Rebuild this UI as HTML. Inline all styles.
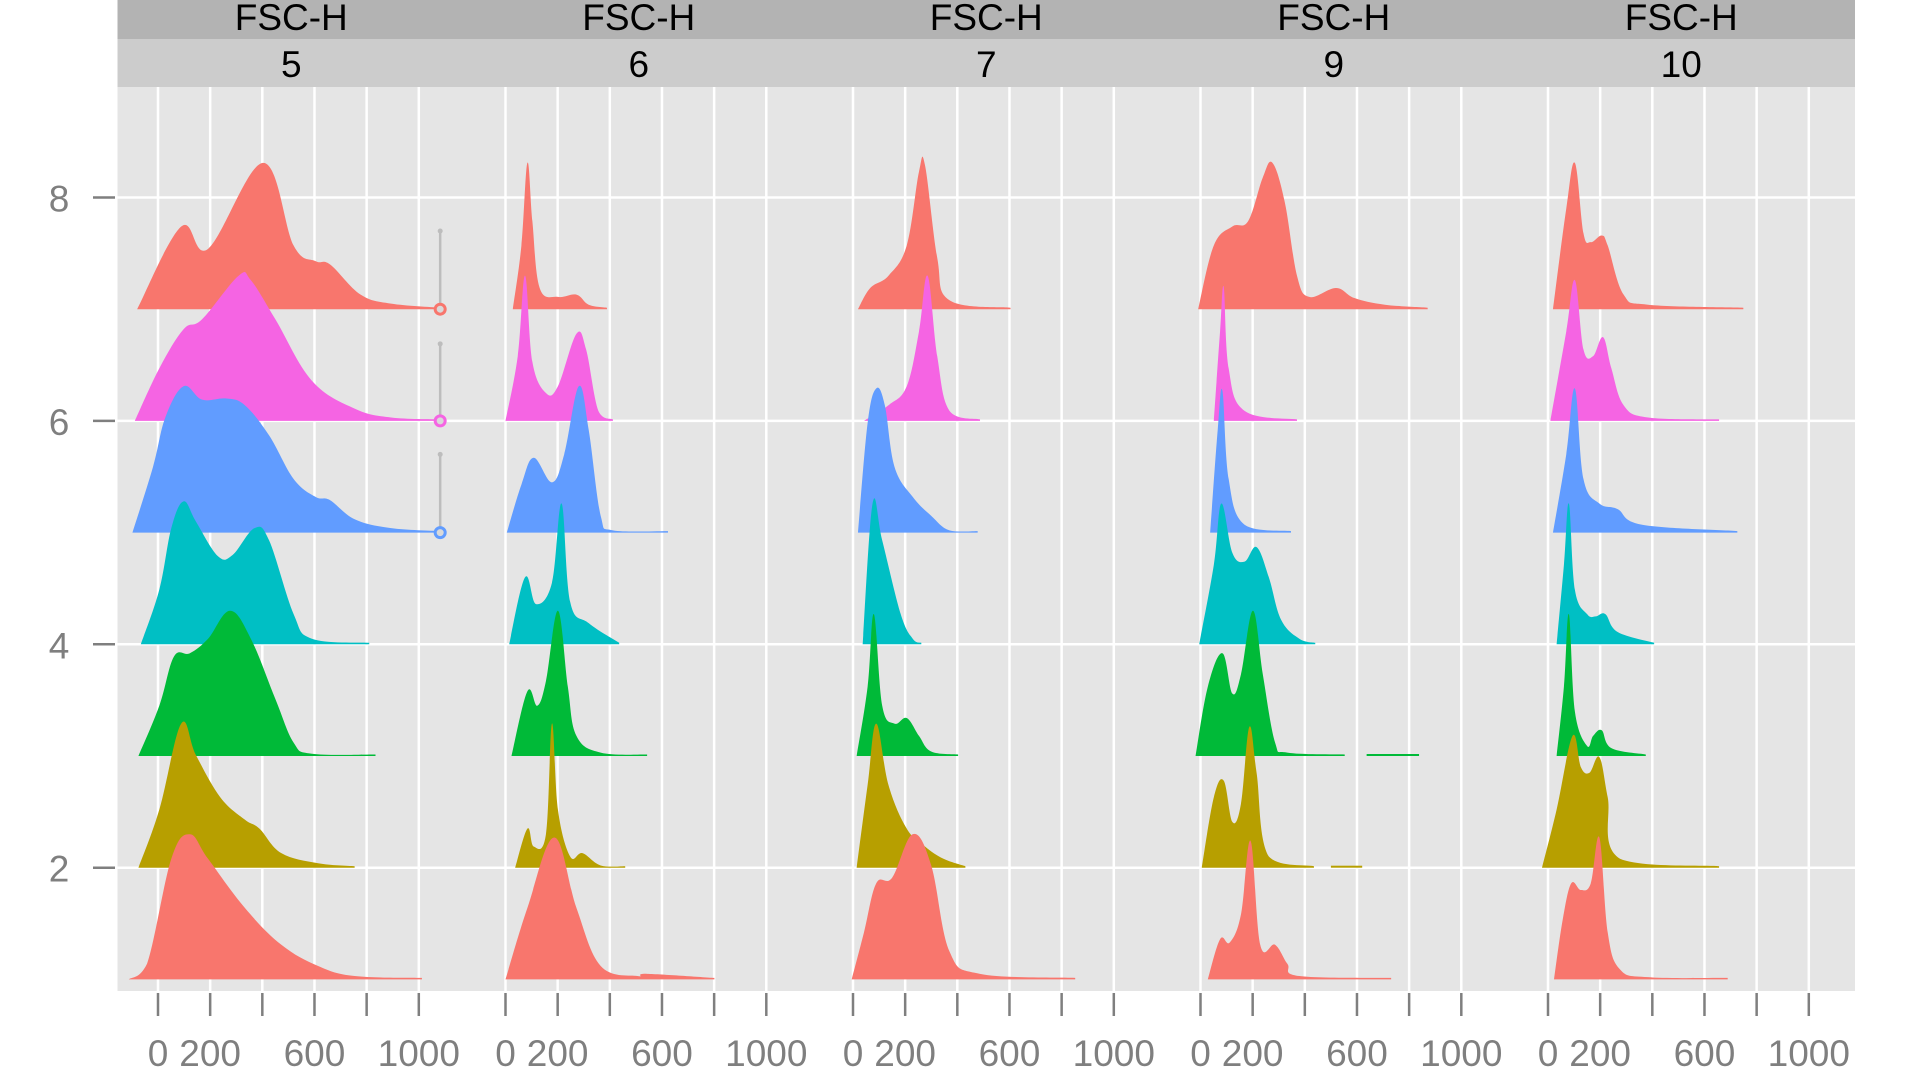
<!DOCTYPE html>
<html><head><meta charset="utf-8">
<style>
html,body{margin:0;padding:0;background:#fff;}
svg{display:block;font-family:"Liberation Sans",sans-serif;}
</style></head>
<body>
<svg id="chart" width="1920" height="1080" viewBox="0 0 1920 1080"></svg>
<script>
const panelLabels = ["5","6","7","9","10"];
const stripTitle = "FSC-H";
const xTicks = [0,200,400,600,800,1000];
const xTickLabels = ["0","200","","600","","1000"];
const yTicks = [2,4,6,8];
const rowColors = ["#F8766D","#B79F00","#00BA38","#00BFC4","#619CFF","#F564E3","#F8766D"];
// densities: [x, h, x, h, ...] per panel, rows 1..7
const panel5 = [
 [-112,0,-42,.14,51,1.08,122,1.3,192,1.08,333,.64,473,.31,614,.12,754,.03,1012,0],
 [-75,0,5,.52,89,1.29,145,1.01,239,.63,333,.43,389,.35,473,.13,614,.04,754,0],
 [-75,0,5,.45,61,.89,122,.92,192,1.05,276,1.3,356,1.05,450,.51,520,.12,590,.02,834,0],
 [-66,0,5,.49,51,1.04,98,1.28,145,1.1,229,.79,286,.8,370,1.04,426,.93,520,.27,590,.05,810,0],
 [-98,0,-19,.59,28,1.03,98,1.31,169,1.19,262,1.2,333,1.14,426,.87,520,.48,604,.32,660,.29,754,.12,894,.04,1082,0],
 [-89,0,5,.47,98,.82,169,.91,309,1.3,356,1.26,450,.91,590,.36,754,.11,894,.03,1082,0],
 [-80,0,89,.74,192,.54,403,1.31,520,.57,604,.43,660,.4,777,.13,894,.05,1082,0]
];
const panel6 = [
 [0,0,84,.64,187,1.27,272,.64,365,.12,506,.03,543,.05,801,0],
 [37,0,84,.35,108,.19,155,.3,178,1.29,201,.52,248,.1,295,.13,365,.02,459,0],
 [23,0,84,.58,122,.45,155,.67,201,1.3,239,.62,272,.18,365,.03,543,0],
 [14,0,75,.6,117,.36,178,.55,215,1.26,248,.38,319,.19,436,0],
 [5,0,61,.43,108,.67,178,.45,225,.7,281,1.31,319,.92,365,.15,412,.02,623,0],
 [0,0,47,.58,75,1.3,103,.53,155,.25,201,.31,272,.78,309,.64,356,.09,412,0],
 [28,0,61,.57,84,1.31,103,.79,131,.19,201,.11,272,.13,319,.04,389,0]
];
const panel7 = [
 [-5,0,42,.42,89,.86,150,.91,229,1.3,300,1.02,370,.25,487,.05,852,0],
 [14,0,56,.74,89,1.29,136,.74,206,.35,276,.19,347,.08,431,0],
 [14,0,56,.62,80,1.27,112,.45,159,.29,206,.34,253,.18,300,.04,403,0],
 [37,0,75,1.26,112,.93,183,.27,229,.05,262,0],
 [19,0,56,.98,89,1.29,122,1.14,159,.59,229,.32,300,.15,370,.02,478,0],
 [42,0,136,.14,206,.31,253,.8,286,1.3,323,.58,370,.09,487,0],
 [19,0,66,.19,136,.3,206,.57,253,1.23,276,1.29,323,.46,370,.08,604,0]
];
const panel9 = [
 [28,0,75,.36,112,.33,155,.58,192,1.24,229,.31,286,.31,333,.14,379,.03,731,0],
 [5,0,51,.63,89,.78,122,.41,155,.57,187,1.26,215,.85,262,.1,435,0],
 [-19,0,28,.62,84,.92,122,.56,155,.73,201,1.3,239,.73,286,.12,333,.03,553,0],
 [-5,0,51,.71,80,1.26,122,.82,169,.74,215,.87,262,.6,309,.22,379,.05,440,0],
 [37,0,66,.92,84,1.27,108,.48,169,.07,347,0],
 [51,0,75,.8,89,1.2,108,.47,169,.09,370,0],
 [-9,0,51,.57,122,.74,183,.79,239,1.18,276,1.31,323,.96,370,.3,417,.11,520,.19,590,.1,707,.04,871,0]
];
const panel10 = [
 [23,0,56,.53,89,.86,126,.8,164,.86,197,1.27,229,.42,276,.09,384,.02,689,0],
 [-23,0,33,.52,94,1.18,126,.9,159,.85,197,.99,229,.63,276,.08,656,0],
 [33,0,61,.62,80,1.27,103,.4,150,.09,173,.18,206,.23,243,.07,375,0],
 [33,0,61,.71,80,1.26,103,.49,150,.27,183,.25,220,.27,267,.11,407,0],
 [19,0,70,.7,103,1.29,136,.48,197,.26,267,.21,361,.07,726,0],
 [9,0,70,.8,103,1.26,136,.64,173,.58,211,.75,243,.47,290,.14,384,.03,656,0],
 [19,0,70,.9,103,1.31,136,.68,164,.6,206,.66,229,.57,290,.13,384,.04,749,0]
];
const panelData = [panel5,panel6,panel7,panel9,panel10];
// extra small flat segments in panel 9 (row, from, to)
const panel9Extra = [[3,637,838],[2,500,620]];
// range indicators in panel 5
const rangeRows = [7,6,5];
const rangeX = [1082,1082,1082];
const rangeTop = [7.7,6.69,5.7];

const NS="http://www.w3.org/2000/svg";
const svg=document.getElementById('chart');
const plotL=117.5, plotR=1855, plotT=87, plotB=991, pw=(plotR-plotL)/5;
function xScale(p,v){return plotL+p*pw+40.5+v*0.2608;}
function yScale(v){return 197.5+(8-v)*111.7;}
function mk(tag,attrs,parent){const e=document.createElementNS(NS,tag);for(const k in attrs)e.setAttribute(k,attrs[k]);(parent||svg).appendChild(e);return e;}

let e;
e=mk('rect',{x:plotL,y:plotT,width:plotR-plotL,height:plotB-plotT,fill:'#e5e5e5'});


e=mk('rect',{x:plotL,y:0,width:plotR-plotL,height:39,fill:'#b3b3b3'});


e=mk('rect',{x:plotL,y:39,width:plotR-plotL,height:48,fill:'#cccccc'});



function smoothPath(pts,baseY){
  let d='M'+pts[0][0]+','+baseY+' L'+pts[0][0]+','+pts[0][1];
  for(let i=0;i<pts.length-1;i++){
    const p0=pts[Math.max(0,i-1)],p1=pts[i],p2=pts[i+1],p3=pts[Math.min(pts.length-1,i+2)];
    const t=0.18;
    let c1x=p1[0]+(p2[0]-p0[0])*t, c1y=p1[1]+(p2[1]-p0[1])*t;
    let c2x=p2[0]-(p3[0]-p1[0])*t, c2y=p2[1]-(p3[1]-p1[1])*t;
    c1y=Math.min(c1y,baseY); c2y=Math.min(c2y,baseY);
    d+=' C'+c1x+','+c1y+' '+c2x+','+c2y+' '+p2[0]+','+p2[1];
  }
  d+=' L'+pts[pts.length-1][0]+','+baseY+' Z';
  return d;
}

for(let p=0;p<5;p++){
  const g=mk('g',{});
  
  
  const cx=plotL+p*pw+pw/2;
  e=mk('text',{x:cx,y:30,'font-size':37,'text-anchor':'middle',fill:'#000'},g);
  e.textContent=stripTitle;
  
  
  e=mk('text',{x:cx,y:77,'font-size':37,'text-anchor':'middle',fill:'#000'},g);
  e.textContent=panelLabels[p];
  
  
  xTicks.forEach(t=>{
    e=mk('line',{x1:xScale(p,t),x2:xScale(p,t),y1:plotT,y2:plotB,stroke:'#fff','stroke-width':2.5},g);
    
    
  });
  yTicks.forEach(t=>{
    e=mk('line',{x1:plotL+p*pw,x2:plotL+(p+1)*pw,y1:yScale(t),y2:yScale(t),stroke:'#fff','stroke-width':2.5},g);
    
    
  });
  for(let r=6;r>=0;r--){
    const arr=panelData[p][r];const base=r+1;const by=yScale(base);
    const pts=[];
    for(let i=0;i<arr.length;i+=2){
      let y=yScale(base+arr[i+1]);
      if(i>0&&i<arr.length-2) y=Math.min(y,by-1.5); else if(i===arr.length-2) y=by-1.5;
      pts.push([xScale(p,arr[i]),y]);
    }
    e=mk('path',{d:smoothPath(pts,by),fill:rowColors[r]},g);
    
    
  }
  if(p===3){
    panel9Extra.forEach(s=>{
      e=mk('rect',{x:xScale(p,s[1]),y:yScale(s[0])-2,width:xScale(p,s[2])-xScale(p,s[1]),height:2,fill:rowColors[s[0]-1]},g);
      
      
    });
  }
  if(p===0){
    rangeRows.forEach((row,i)=>{
      const x=xScale(0,rangeX[i]);
      e=mk('line',{x1:x,x2:x,y1:yScale(rangeTop[i]),y2:yScale(row),stroke:'#bdbdbd','stroke-width':2.5},g);
      
      
      e=mk('circle',{cx:x,cy:yScale(rangeTop[i]),r:2.5,fill:'#bdbdbd'},g);
      
      
      e=mk('circle',{cx:x,cy:yScale(row),r:5,fill:'#d9d9d9',stroke:rowColors[row-1],'stroke-width':3},g);
      
      
    });
  }
  xTicks.forEach((t,i)=>{
    e=mk('line',{x1:xScale(p,t),x2:xScale(p,t),y1:993,y2:1016,stroke:'#7f7f7f','stroke-width':2.5},g);
    
    
    if(xTickLabels[i]){
      e=mk('text',{x:xScale(p,t),y:1066,'font-size':37,'text-anchor':'middle',fill:'#7f7f7f'},g);
      e.textContent=xTickLabels[i];
      
      
    }
  });
}
yTicks.forEach(t=>{
  e=mk('line',{x1:93,x2:115,y1:yScale(t),y2:yScale(t),stroke:'#7f7f7f','stroke-width':2.5});
  
  
  e=mk('text',{x:59,y:yScale(t)+14,'font-size':37,'text-anchor':'middle',fill:'#7f7f7f'});
  e.textContent=String(t);
  
  
});
</script>
</body></html>
